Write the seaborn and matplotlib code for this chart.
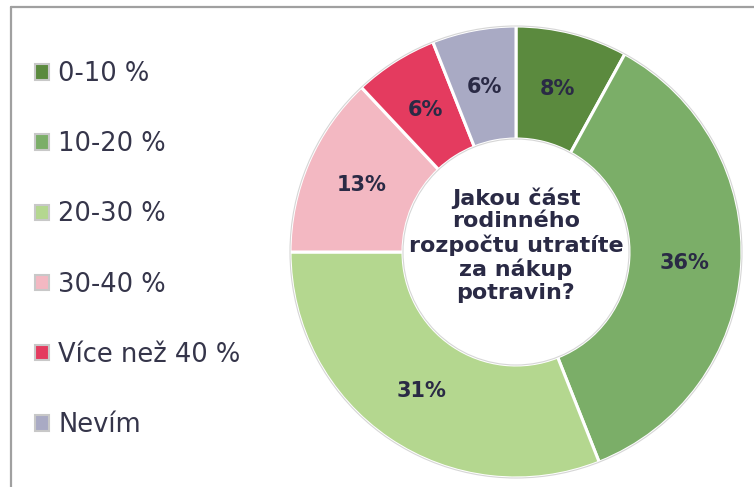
import matplotlib
matplotlib.use("Agg")
import matplotlib.pyplot as plt
import seaborn as sns
import numpy as np
from matplotlib.patches import Patch, Circle
from matplotlib.lines import Line2D

categories = ["0-10 %", "10-20 %", "20-30 %", "30-40 %", "Více než 40 %", "Nevím"]
values = [8, 36, 31, 13, 6, 6]
pct_labels = ["8%", "36%", "31%", "13%", "6%", "6%"]
colors = ["#5b8a3e", "#7bae68", "#b4d78f", "#f3b8c2", "#e43b5f", "#a9aac4"]
center_text = "Jakou část\nrodinného\nrozpočtu utratíte\nza nákup\npotravin?"

sns.set_theme(style="white")
plt.rcParams["font.family"] = ["DejaVu Sans"]

W, H = 754, 487
fig = plt.figure(figsize=(W / 100, H / 100), dpi=100)
fig.patch.set_facecolor("white")

# donut axes
cx, cy, R = 516, 252, 226
ax = fig.add_axes([(cx - R) / W, (H - cy - R) / H, 2 * R / W, 2 * R / H])
wedges, _ = ax.pie(values, colors=colors, startangle=90, counterclock=False,
                   radius=1.0, wedgeprops=dict(width=0.5, edgecolor="white", linewidth=2.2))
ax.set_xlim(-1, 1)
ax.set_ylim(-1, 1)
ax.set_aspect("equal")
ax.axis("off")

total = sum(values)
start = 90.0
txt_color = "#2a2a45"
for v, lab in zip(values, pct_labels):
    ang = np.deg2rad(start - v / total * 360 / 2)
    start -= v / total * 360
    ax.text(0.745 * np.cos(ang), 0.745 * np.sin(ang), lab, ha="center", va="center",
            fontsize=15, fontweight="bold", color=txt_color)

ax.add_patch(Circle((0, 0), 1.0, fill=False, edgecolor="#d6d6d6", linewidth=0.8, clip_on=False))
ax.add_patch(Circle((0, 0), 0.5, fill=False, edgecolor="#d6d6d6", linewidth=0.8))
ax.text(0, 0.03, center_text, ha="center", va="center", fontsize=16, fontweight="bold",
        color=txt_color, linespacing=1.17)

# frame lines (top and left)
fig.add_artist(Line2D([11 / W, 1], [1 - 7 / H, 1 - 7 / H], color="#a0a0a0", linewidth=1.6))
fig.add_artist(Line2D([11 / W, 11 / W], [0, 1 - 7 / H], color="#a0a0a0", linewidth=1.6))

# legend
handles = [Patch(facecolor=c, edgecolor="#c8c8c8", linewidth=1.5) for c in colors]
leg = fig.legend(handles, categories, loc="upper left", bbox_to_anchor=(35 / W, 1 - 61 / H),
                 frameon=False, fontsize=18.5, handlelength=0.55, handleheight=0.55,
                 handletextpad=0.35, labelspacing=1.72, borderpad=0, borderaxespad=0)
for t in leg.get_texts():
    t.set_color("#35354a")

fig.savefig("out.png", dpi=100, facecolor="white")
